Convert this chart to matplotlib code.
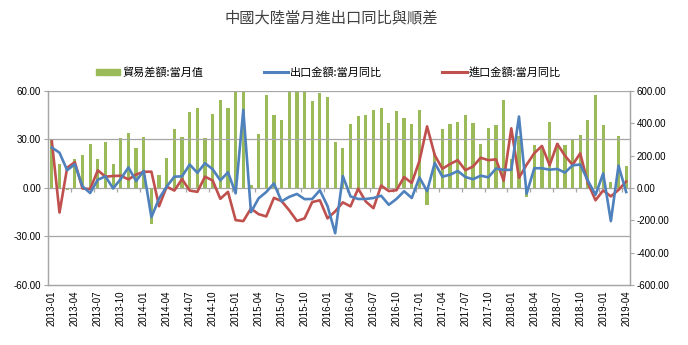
import matplotlib
matplotlib.use('Agg')
import matplotlib.pyplot as plt
import numpy as np
from matplotlib.patches import Patch
from matplotlib.lines import Line2D

plt.rcParams['font.family'] = ['Noto Sans CJK TC', 'DejaVu Sans']

# months 2013-01 .. 2019-04
months = [f'{y}-{m:02d}' for y in range(2013, 2020) for m in range(1, 13)][:76]

# 出口金額:當月同比 (%)
exports = [25.0, 21.8, 11.0, 14.7, 1.0, -3.1, 5.1, 7.2, -0.3, 5.6, 12.7, 4.3,
           10.6, -18.1, -6.6, 0.9, 7.0, 7.2, 14.5, 9.4, 15.3, 11.6, 4.7, 9.7,
           -3.3, 48.3, -15.0, -6.4, -2.5, 2.8, -8.3, -5.5, -3.7, -6.9, -6.8, -1.4,
           -11.2, -28.0, 7.4, -5.2, -6.8, -6.8, -6.2, -4.8, -10.4, -6.8, -2.0, -6.2,
           6.5, -2.0, 15.5, 7.0, 8.2, 10.5, 6.8, 5.4, 7.6, 6.6, 12.0, 11.2,
           11.2, 44.2, -3.5, 12.2, 12.2, 11.3, 11.8, 9.5, 14.0, 14.5, 4.5, -4.2,
           9.0, -20.5, 13.8, -2.5]

# 進口金額:當月同比 (%)
imports = [28.8, -15.2, 12.5, 16.0, -0.3, -0.7, 10.9, 7.0, 7.4, 7.6, 5.3, 8.3,
           10.0, 10.1, -11.3, 0.8, -1.6, 5.5, -1.6, -2.4, 7.0, 4.6, -6.7, -2.4,
           -19.9, -20.5, -12.7, -16.2, -17.6, -6.1, -8.1, -13.8, -20.4, -18.8, -8.7, -7.6,
           -18.8, -14.5, -8.9, -11.4, -0.4, -8.4, -12.5, 1.5, -1.9, -1.4, 6.7, 3.1,
           16.7, 38.1, 20.3, 11.9, 14.8, 17.2, 11.0, 13.3, 18.7, 17.2, 17.7, 4.5,
           36.9, 6.3, 14.4, 21.5, 26.0, 14.1, 27.3, 20.0, 14.3, 21.4, 3.0, -7.6,
           -1.5, -5.2, -1.2, 4.0]

# 貿易差額:當月值
balance = [298, 149, -10, 182, 203, 269, 178, 283, 149, 310, 337, 250,
           317, -225, 82, 183, 364, 317, 472, 497, 310, 458, 544, 497,
           600, 606, 21, 331, 573, 451, 418, 610, 595, 616, 540, 590,
           565, 286, 248, 397, 445, 451, 484, 497, 403, 476, 430, 397,
           484, -108, 215, 362, 397, 410, 451, 403, 275, 368, 389, 542,
           180, 321, -58, 265, 238, 410, 280, 263, 300, 329, 418, 573,
           389, 35, 321, 134]

green = '#9BBB59'
blue = '#4F81BD'
red = '#C0504D'
grid_c = '#A6A6A6'
txt_c = '#404040'

x = np.arange(len(months))

fig = plt.figure(figsize=(6.88, 3.45), dpi=100)
ax = fig.add_axes([0.0698, 0.174, 0.8459, 0.5623])
ax2 = ax.twinx()

# bars behind lines
ax2.bar(x, balance, width=0.42, color=green, zorder=2)
ax.set_zorder(ax2.get_zorder() + 1)
ax.patch.set_visible(False)

ax.plot(x, exports, color=blue, lw=1.9, zorder=4)
ax.plot(x, imports, color=red, lw=1.9, zorder=3)

ax.set_xlim(-0.5, len(months) - 0.5)
ax.set_ylim(-60, 60)
ax2.set_ylim(-600, 600)

ax.set_yticks([-60, -30, 0, 30, 60])
ax.set_yticklabels([f'{v:.2f}' for v in [-60, -30, 0, 30, 60]], fontsize=7,
                   family='Liberation Sans', color='black')
ax2.set_yticks(np.arange(-600, 601, 200))
ax2.set_yticklabels([f'{v:.2f}' for v in np.arange(-600, 601, 200)], fontsize=7,
                    family='Liberation Sans', color='black')

ax.set_xticks(x[::3])
ax.set_xticklabels(months[::3], rotation=90, fontsize=7, family='Liberation Sans')
ax.tick_params(axis='x', length=0, pad=4)
ax.tick_params(axis='y', length=3, color=grid_c, pad=2)
ax2.tick_params(axis='y', length=3, color=grid_c, pad=2)

# gridlines
for v in [-30, 0, 30, 60]:
    ax.axhline(v, color=grid_c, lw=0.9, zorder=0)
# category ticks on the zero line
ax.vlines(x[3::3] - 0.5, -2.5, 0, color=grid_c, lw=0.9)

for side in ['top']:
    ax.spines[side].set_visible(False)
    ax2.spines[side].set_visible(False)
for a in (ax, ax2):
    for side in ['left', 'right', 'bottom']:
        a.spines[side].set_color(grid_c)
        a.spines[side].set_linewidth(0.9)

fig.text(0.481, 0.948, '中國大陸當月進出口同比與順差', ha='center', va='center',
         fontsize=11, color=txt_c)

handles = [Patch(color=green),
           Line2D([], [], color=blue, lw=2.2),
           Line2D([], [], color=red, lw=2.2)]
labels = ['貿易差額:當月值', '出口金額:當月同比', '進口金額:當月同比']
fig.legend(handles, labels, loc='center', bbox_to_anchor=(0.4775, 0.79), ncol=3,
           frameon=False, fontsize=8, handlelength=2.2, handleheight=0.5,
           handletextpad=0.2, columnspacing=5.4)

fig.savefig('out.png', dpi=100)
